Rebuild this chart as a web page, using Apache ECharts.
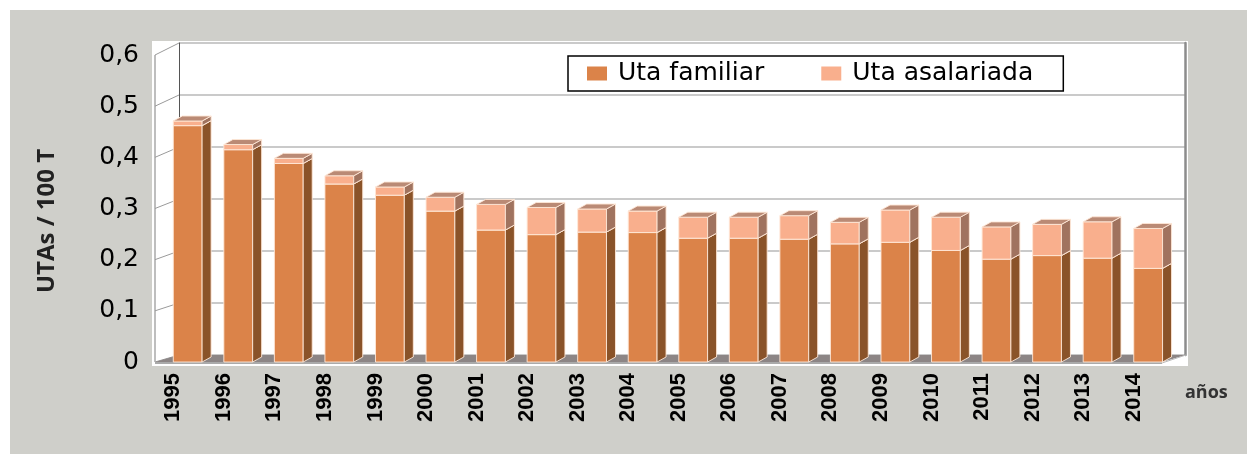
<!DOCTYPE html>
<html>
<head>
<meta charset="utf-8">
<script src="https://cdn.jsdelivr.net/npm/echarts@6/dist/echarts.min.js"></script>
<style>
  html, body { margin: 0; padding: 0; background: #fff; }
  #panel { position: absolute; left: 10px; top: 10px; width: 1237px; height: 444px; background: #cfcfca; }
  #plot { position: absolute; left: 152px; top: 41px; width: 1036px; height: 325px; background: #fff; }
  #chart { position: absolute; left: 0; top: 0; width: 1247px; height: 454px; }
</style>
</head>
<body>
<div id="panel"></div>
<div id="plot"></div>
<div id="chart"></div>
<script>
const years = ['1995', '1996', '1997', '1998', '1999', '2000', '2001', '2002', '2003', '2004',
  '2005', '2006', '2007', '2008', '2009', '2010', '2011', '2012', '2013', '2014']
const utaFamiliar = [0.462, 0.415, 0.388, 0.348, 0.326, 0.295, 0.258, 0.249, 0.254, 0.253,
  0.242, 0.242, 0.240, 0.231, 0.234, 0.218, 0.201, 0.208, 0.203, 0.183]
const utaAsalariada = [0.009, 0.010, 0.010, 0.016, 0.016, 0.027, 0.050, 0.053, 0.045, 0.042,
  0.041, 0.041, 0.046, 0.042, 0.063, 0.065, 0.063, 0.061, 0.071, 0.078]
const yTicks = [0, 0.1, 0.2, 0.3, 0.4, 0.5, 0.6]

const chart = echarts.init(document.getElementById('chart'))

// caja 3D: cara frontal, lateral y superior
function box(front, side, top) {
  return function (params, api) {
    const i = api.value(0)
    const p0 = api.coord([i, api.value(1)])
    const p1 = api.coord([i, api.value(2)])
    const bw = api.size([1, 0])[0]
    const x0 = p0[0] + bw * 0.02
    const x1 = x0 + bw * 0.57
    const y0 = p0[1]
    const y1 = p1[1]
    const dx = 9
    const dy = 5
    const edge = { stroke: 'rgba(255,232,215,0.9)', lineWidth: 1 }
    return {
      type: 'group',
      children: [
        { type: 'rect', shape: { x: x0, y: y1, width: x1 - x0, height: y0 - y1 }, style: Object.assign({ fill: front }, edge) },
        { type: 'polygon', shape: { points: [[x1, y0], [x1 + dx, y0 - dy], [x1 + dx, y1 - dy], [x1, y1]] }, style: Object.assign({ fill: side }, edge) },
        { type: 'polygon', shape: { points: [[x0, y1], [x1, y1], [x1 + dx, y1 - dy], [x0 + dx, y1 - dy]] }, style: Object.assign({ fill: top }, edge) }
      ]
    }
  }
}

// paredes laterales y suelo
function walls(params, api) {
  const v = api.value(1)
  const p = api.coord([0, v])
  const back = [p[0] + 24, p[1] - 7 - 5 * v / 0.6]
  const children = [
    { type: 'line', shape: { x1: p[0], y1: p[1], x2: back[0], y2: back[1] }, style: { stroke: '#9a9a9a', lineWidth: 1 } }
  ]
  if (params.dataIndex === 0) {
    const q = api.coord([1, 0])
    const top = api.coord([0, 0.6])
    children.push(
      { type: 'polygon', shape: { points: [p, q, [q[0] + 24, q[1] - 7], back] }, style: { fill: '#8c8585' } },
      { type: 'line', shape: { x1: p[0], y1: p[1] + 1, x2: q[0], y2: q[1] + 1 }, style: { stroke: '#aaaaaa', lineWidth: 2 } },
      { type: 'line', shape: { x1: q[0], y1: q[1] + 1, x2: q[0] + 24, y2: q[1] - 7 }, style: { stroke: '#bbbbbb', lineWidth: 1 } },
      { type: 'line', shape: { x1: p[0], y1: p[1], x2: top[0], y2: top[1] }, style: { stroke: '#a8a8a8', lineWidth: 1.5 } }
    )
  }
  return { type: 'group', children: children }
}

chart.setOption({
  animation: false,
  grid: [
    { left: 155, top: 55, width: 1007, height: 307 },
    { left: 147, top: 55, width: 1011, height: 307 },
    { left: 179, top: 43, width: 1006, height: 312 }
  ],
  legend: {
    left: 568,
    top: 56,
    padding: [5, 30, 5, 19],
    itemGap: 57,
    itemWidth: 20,
    itemHeight: 14,
    icon: 'rect',
    borderColor: '#000',
    borderWidth: 1.5,
    backgroundColor: '#fff',
    textStyle: { fontFamily: 'DejaVu Sans', fontSize: 25, color: '#000', padding: [0, 0, 0, 6] },
    data: ['Uta familiar', 'Uta asalariada']
  },
  graphic: [
    {
      id: 'yname',
      type: 'text',
      x: 47,
      y: 221,
      rotation: Math.PI / 2,
      style: {
        text: 'UTAs / 100 T',
        font: 'bold 24px "Open Sans"',
        fill: '#222',
        align: 'center',
        verticalAlign: 'middle'
      }
    },
    {
      id: 'xname',
      type: 'text',
      x: 1185,
      y: 393,
      style: {
        text: 'años',
        font: 'bold 18px "Open Sans"',
        fill: '#333',
        align: 'left',
        verticalAlign: 'middle'
      }
    }
  ],
  xAxis: [
    { gridIndex: 0, type: 'value', min: 0, max: 1, show: false },
    {
      gridIndex: 1,
      type: 'category',
      data: years,
      axisLine: { show: false },
      axisTick: { show: false },
      axisLabel: { show: false }
    },
    { gridIndex: 2, type: 'value', min: 0, max: 1, show: false }
  ],
  yAxis: [
    {
      gridIndex: 0,
      type: 'value',
      min: 0,
      max: 0.6,
      interval: 0.1,
      axisLine: { show: false },
      axisTick: { show: false },
      splitLine: { show: false },
      axisLabel: {
        margin: 16,
        fontFamily: 'DejaVu Sans',
        fontSize: 25,
        color: '#000',
        formatter: (v) => (v === 0 ? '0' : v.toFixed(1).replace('.', ','))
      }
    },
    { gridIndex: 1, type: 'value', min: 0, max: 0.6, interval: 0.1, show: false },
    {
      gridIndex: 2,
      type: 'value',
      min: 0,
      max: 0.6,
      interval: 0.1,
      axisLine: { show: true, lineStyle: { color: '#555', width: 1 } },
      axisTick: { show: false },
      axisLabel: { show: false },
      splitLine: { lineStyle: { color: '#b8b8b8', width: 1.5 } }
    },
    {
      gridIndex: 2,
      type: 'value',
      position: 'right',
      min: 0,
      max: 0.6,
      interval: 0.1,
      axisLine: { show: true, lineStyle: { color: '#8c8c8c', width: 2.5 } },
      axisTick: { show: false },
      axisLabel: { show: false },
      splitLine: { show: false }
    }
  ],
  series: [
    {
      type: 'custom',
      name: 'walls',
      xAxisIndex: 0,
      yAxisIndex: 0,
      silent: true,
      z: 1,
      renderItem: walls,
      data: yTicks.map((v) => [0, v])
    },
    {
      type: 'custom',
      name: 'Uta familiar',
      xAxisIndex: 1,
      yAxisIndex: 1,
      z: 3,
      itemStyle: { color: '#db8349' },
      encode: { x: 0, y: 2 },
      renderItem: box('#db8349', '#8a5329', '#b0704a'),
      data: years.map((y, i) => [i, 0, utaFamiliar[i]])
    },
    {
      type: 'custom',
      name: 'Uta asalariada',
      xAxisIndex: 1,
      yAxisIndex: 1,
      z: 3,
      itemStyle: { color: '#f9af8d' },
      encode: { x: 0, y: 2 },
      renderItem: box('#f9af8d', '#a0735f', '#ba8a75'),
      data: years.map((y, i) => [i, utaFamiliar[i], utaFamiliar[i] + utaAsalariada[i]])
    }
  ]
})

// años en vertical, colocados con la escala del eje de categorías
chart.setOption({
  graphic: years.map((y, i) => {
    const p = chart.convertToPixel({ xAxisIndex: 1, yAxisIndex: 1 }, [i, 0])
    return {
      id: 'year' + i,
      type: 'text',
      x: p[0] + 1,
      y: p[1] + 11,
      rotation: Math.PI / 2,
      style: {
        text: y,
        fontFamily: 'Liberation Sans',
        fontWeight: 'bold',
        fontSize: 22,
        fill: '#000',
        align: 'right',
        verticalAlign: 'middle'
      }
    }
  })
})
</script>
</body>
</html>
